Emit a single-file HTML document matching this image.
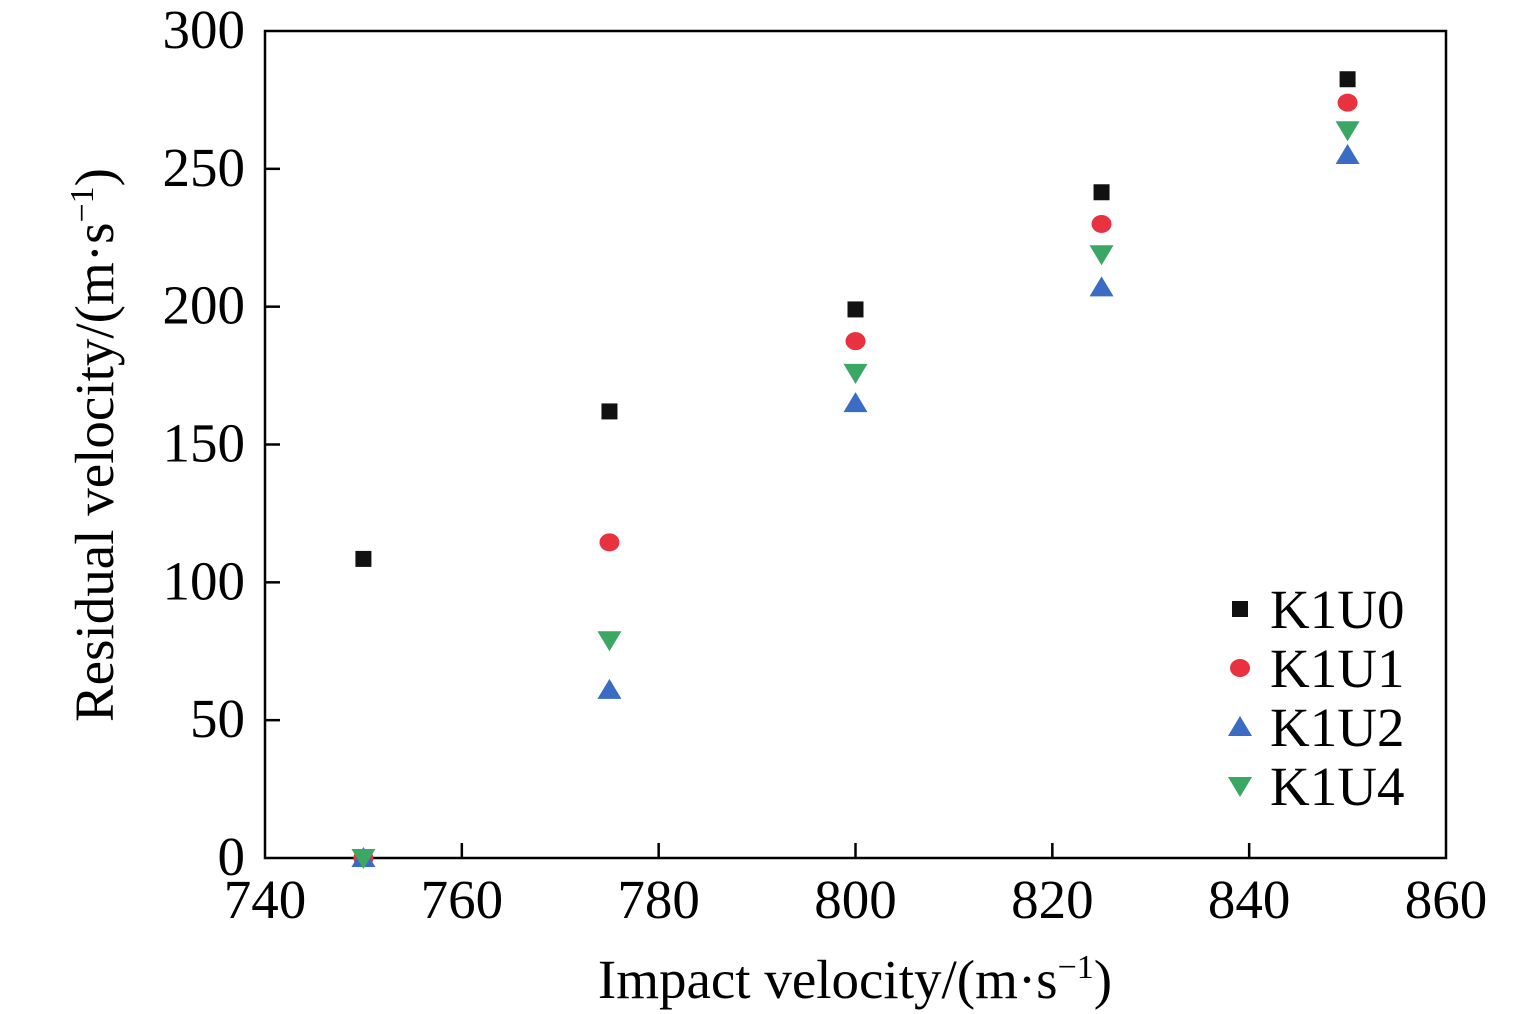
<!DOCTYPE html>
<html><head><meta charset="utf-8"><style>
body{margin:0;background:#fff}
svg{display:block;font-family:"Liberation Serif",serif}
</style></head><body>
<svg id="c" width="1535" height="1014" viewBox="0 0 1535 1014">
<rect x="265" y="31" width="1181" height="827" fill="none" stroke="#000" stroke-width="2.5"/>
<g id="ticks"></g><g id="marks"></g>
<text x="855" y="998" font-size="55" text-anchor="middle">Impact velocity/(m·s<tspan dy="-20" font-size="34">−1</tspan><tspan dy="20">)</tspan></text>
<text transform="translate(113,445) rotate(-90)" font-size="55" text-anchor="middle">Residual velocity/(m·s<tspan dy="-20" font-size="34">−1</tspan><tspan dy="20">)</tspan></text>
<g id="legend"></g>
</svg>
<script>
const xTicks=[740,760,780,800,820,840,860];
const yTicks=[0,50,100,150,200,250,300];
const impact=[750,775,800,825,850];
const k1u0=[108.5,162,199,241.5,282.5];
const k1u1=[0,114.5,187.5,230,274];
const k1u2=[0,61,165,207,255];
const k1u4=[0,79,176,219,264];
const seriesNames=["K1U0","K1U1","K1U2","K1U4"];
const X=v=>265+(v-740)*(1181/120);
const Y=v=>858-v*(827/300);
const NS="http://www.w3.org/2000/svg";
function mk(t,a,p){const e=document.createElementNS(NS,t);for(const k in a)e.setAttribute(k,a[k]);p.appendChild(e);return e;}
const tg=document.getElementById('ticks');
xTicks.forEach(v=>{
 if(v>740&&v<860){const l=mk('line',{x1:X(v),x2:X(v),y1:858,y2:843,stroke:'#000','stroke-width':2.5},tg);
 
 }
 const t=mk('text',{x:X(v),y:918,'font-size':55,'text-anchor':'middle'},tg);t.textContent=v;
 
 
});
yTicks.forEach(v=>{
 if(v>0&&v<300){const l=mk('line',{x1:265,x2:280,y1:Y(v),y2:Y(v),stroke:'#000','stroke-width':2.5},tg);
 
 }
 const t=mk('text',{x:245,y:Y(v)+17,'font-size':55,'text-anchor':'end'},tg);t.textContent=v;
 
 
});
const colors=['#111','#e8323f','#3a6cc4','#3aa765'];
function marker(kind,cx,cy,p){
 let e;
 if(kind===0)e=mk('rect',{x:cx-8,y:cy-8,width:16,height:16,fill:colors[0]},p);
 else if(kind===1)e=mk('ellipse',{cx:cx,cy:cy,rx:10,ry:9,fill:colors[1]},p);
 else if(kind===2)e=mk('polygon',{points:`${cx},${cy-11} ${cx+12},${cy+9} ${cx-12},${cy+9}`,fill:colors[2]},p);
 else e=mk('polygon',{points:`${cx},${cy+11} ${cx+12},${cy-9} ${cx-12},${cy-9}`,fill:colors[3]},p);
 return e;
}
const mg=document.getElementById('marks');
[k1u0,k1u1,k1u2,k1u4].forEach((s,i)=>{
 s.forEach((v,j)=>{const e=marker(i,X(impact[j]),Y(v),mg);
 
 });
});
const lg=document.getElementById('legend');
seriesNames.forEach((n,i)=>{
 const y=609+i*59;
 const e=marker(i,1240,y,lg);
 
 
 const t=mk('text',{x:1270,y:y+19,'font-size':55},lg);t.textContent=n;
 
 
});
</script>
</body></html>
